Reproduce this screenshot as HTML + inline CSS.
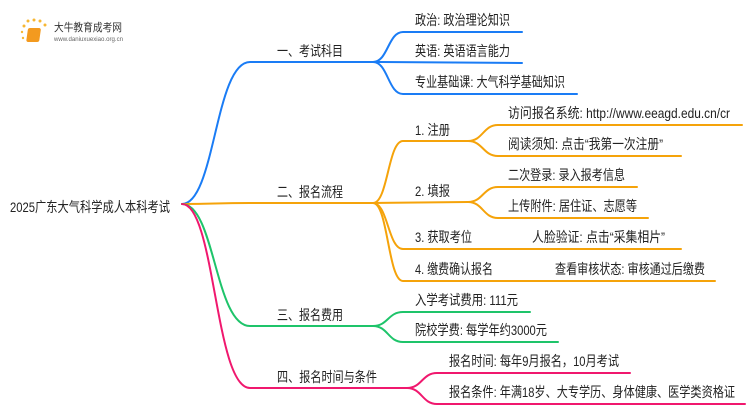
<!DOCTYPE html>
<html><head><meta charset="utf-8"><style>
html,body{margin:0;padding:0;background:#fff;width:750px;height:410px;overflow:hidden}
text{font-family:"Liberation Sans","Noto Sans CJK SC",sans-serif;font-size:14px;fill:#222}
</style></head><body>
<svg width="750" height="410" viewBox="0 0 750 410" xmlns="http://www.w3.org/2000/svg">
<g fill="none" stroke-width="2" stroke-linecap="round">
<g stroke="#1a7cf5">
<path d="M182 204 C215 204 215 62 250 62 L373 62"/>
<path d="M373 62 C388 62 388 32 403 32 L522 32"/>
<path d="M373 62 L522 63"/>
<path d="M373 62 C388 62 388 94 403 94 L577 94"/>
</g>
<g stroke="#f5a30a">
<path d="M182 204 C215 204 215 203 250 203 L373 203"/>
<path d="M373 203 C388 203 388 141 403 141 L468 141"/>
<path d="M468 141 C483 141 483 125 498 125 L742 125"/>
<path d="M468 141 C483 141 483 156 498 156 L681 156"/>
<path d="M373 203 L468 202"/>
<path d="M468 202 C483 202 483 187 498 187 L637 187"/>
<path d="M468 202 C483 202 483 218 498 218 L648 218"/>
<path d="M373 203 C388 203 388 249 403 249 L681 249"/>
<path d="M373 203 C388 203 388 281 403 281 L715 281"/>
</g>
<g stroke="#1ec46a">
<path d="M182 204 C215 204 215 326 250 326 L373 326"/>
<path d="M373 326 C388 326 388 312 403 312 L530 312"/>
<path d="M373 326 C388 326 388 342 403 342 L558 342"/>
</g>
<g stroke="#f0186e">
<path d="M182 204 C215 204 215 388 250 388 L407 388"/>
<path d="M407 388 C422 388 422 373 437 373 L630 373"/>
<path d="M407 388 C422 388 422 404 437 404 L745 404"/>
</g>
</g>
<g>
<circle cx="24" cy="26" r="1.5" fill="#f7b733"/><circle cx="28" cy="21" r="1.5" fill="#f7b733"/><circle cx="34" cy="20" r="1.5" fill="#f7b733"/><circle cx="40" cy="21" r="1.5" fill="#f7b733"/><circle cx="45" cy="25" r="1.5" fill="#f7b733"/><circle cx="22" cy="32" r="1.2" fill="#f7b733"/><circle cx="23" cy="38" r="1.2" fill="#f7b733"/>
<rect x="32" y="28" width="13" height="14" rx="2" fill="#f39a1f" transform="skewX(-8)"/>
<text x="54" y="31" textLength="68" lengthAdjust="spacingAndGlyphs" style="font-size:11px;fill:#333">大牛教育成考网</text>
<text x="54" y="41" textLength="69" lengthAdjust="spacingAndGlyphs" style="font-size:6px;fill:#666">www.daniuxuexiao.org.cn</text>
</g>
<g lengthAdjust="spacingAndGlyphs">
<text x="10" y="212" textLength="160" lengthAdjust="spacingAndGlyphs">2025广东大气科学成人本科考试</text>
<text x="277" y="56" textLength="66" lengthAdjust="spacingAndGlyphs">一、考试科目</text>
<text x="277" y="197" textLength="66" lengthAdjust="spacingAndGlyphs">二、报名流程</text>
<text x="277" y="320" textLength="66" lengthAdjust="spacingAndGlyphs">三、报名费用</text>
<text x="277" y="382" textLength="100" lengthAdjust="spacingAndGlyphs">四、报名时间与条件</text>
<text x="415" y="25" textLength="95" lengthAdjust="spacingAndGlyphs">政治: 政治理论知识</text>
<text x="415" y="56" textLength="95" lengthAdjust="spacingAndGlyphs">英语: 英语语言能力</text>
<text x="415" y="87" textLength="150" lengthAdjust="spacingAndGlyphs">专业基础课: 大气科学基础知识</text>
<text x="415" y="135" textLength="35" lengthAdjust="spacingAndGlyphs">1. 注册</text>
<text x="508" y="118" textLength="222" lengthAdjust="spacingAndGlyphs">访问报名系统: http://www.eeagd.edu.cn/cr</text>
<text x="508" y="149" textLength="155" lengthAdjust="spacingAndGlyphs">阅读须知: 点击“我第一次注册”</text>
<text x="415" y="196" textLength="35" lengthAdjust="spacingAndGlyphs">2. 填报</text>
<text x="508" y="180" textLength="117" lengthAdjust="spacingAndGlyphs">二次登录: 录入报考信息</text>
<text x="508" y="211" textLength="129" lengthAdjust="spacingAndGlyphs">上传附件: 居住证、志愿等</text>
<text x="415" y="242" textLength="57" lengthAdjust="spacingAndGlyphs">3. 获取考位</text>
<text x="532" y="242" textLength="133" lengthAdjust="spacingAndGlyphs">人脸验证: 点击“采集相片”</text>
<text x="415" y="274" textLength="78" lengthAdjust="spacingAndGlyphs">4. 缴费确认报名</text>
<text x="555" y="274" textLength="150" lengthAdjust="spacingAndGlyphs">查看审核状态: 审核通过后缴费</text>
<text x="415" y="305" textLength="103" lengthAdjust="spacingAndGlyphs">入学考试费用: 111元</text>
<text x="415" y="335" textLength="132" lengthAdjust="spacingAndGlyphs">院校学费: 每学年约3000元</text>
<text x="449" y="366" textLength="170" lengthAdjust="spacingAndGlyphs">报名时间: 每年9月报名，10月考试</text>
<text x="449" y="397" textLength="286" lengthAdjust="spacingAndGlyphs">报名条件: 年满18岁、大专学历、身体健康、医学类资格证</text>
</g>
</svg>
</body></html>
